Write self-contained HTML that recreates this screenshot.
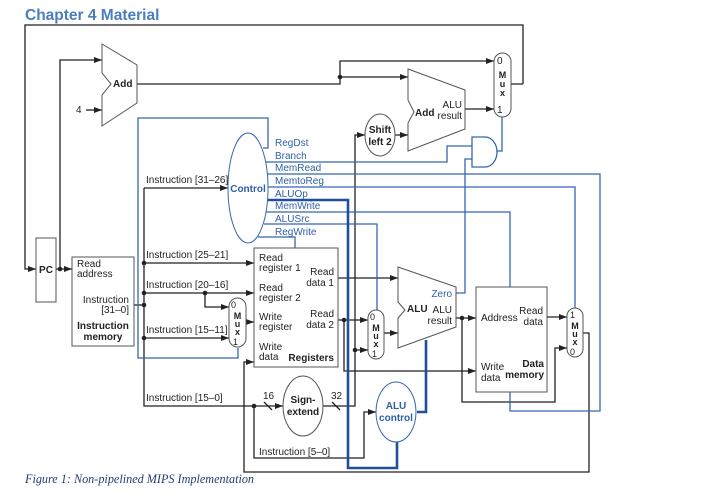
<!DOCTYPE html>
<html><head><meta charset="utf-8"><style>
html,body{margin:0;padding:0;background:#fff;width:712px;height:501px;overflow:hidden}
svg{display:block}
text{font-family:"Liberation Sans",Arial,sans-serif;font-size:10px;fill:#222}
.b{font-weight:bold}
.bl{fill:#2f5fa8}
.k{stroke:#222;stroke-width:1.3;fill:none}
.u{stroke:#3566b0;stroke-width:1.3;fill:none}
.U{stroke:#1f4f9a;stroke-width:2.6;fill:none}
.sh{stroke:#555;stroke-width:1;fill:#fff}
</style></head><body>
<svg width="712" height="501" viewBox="0 0 712 501" xmlns="http://www.w3.org/2000/svg">
<defs>
<marker id="a" viewBox="0 0 8 6" refX="8" refY="3" markerWidth="8" markerHeight="6" markerUnits="userSpaceOnUse" orient="auto"><path d="M0,0L8,3L0,6z" fill="#222"/></marker>
</defs>
<text x="25" y="20" style="font-size:15.5px;font-weight:bold;fill:#4a7ebb">Chapter 4 Material</text>

<g class="k">
<path d="M523,84H511M523,84V25H25V269H36" marker-end="url(#a)"/>
<path d="M56,269H72" marker-end="url(#a)"/>
<path d="M60,269V60H102" marker-end="url(#a)"/>
<path d="M86,110H102" marker-end="url(#a)"/>
<path d="M137,84H340V61H494" marker-end="url(#a)"/>
<path d="M340,77H408" marker-end="url(#a)"/>
<path d="M465,109H494" marker-end="url(#a)"/>
<path d="M395,135H408" marker-end="url(#a)"/>
<path d="M134,305H144"/>
<path d="M144,188H228" marker-end="url(#a)"/>
<path d="M144,188V406H283" marker-end="url(#a)"/>
<path d="M144,263H254" marker-end="url(#a)"/>
<path d="M144,293H254" marker-end="url(#a)"/>
<path d="M205,293V307H229" marker-end="url(#a)"/>
<path d="M144,338H229" marker-end="url(#a)"/>
<path d="M246,322H254" marker-end="url(#a)"/>
<path d="M254,406V458H364V412H376" marker-end="url(#a)"/>
<path d="M323,406H355V135H365" marker-end="url(#a)"/>
<path d="M355,350H368" marker-end="url(#a)"/>
<path d="M338,278H398" marker-end="url(#a)"/>
<path d="M338,320H368" marker-end="url(#a)"/>
<path d="M344,320V371H476" marker-end="url(#a)"/>
<path d="M384,333H398" marker-end="url(#a)"/>
<path d="M456,318H476" marker-end="url(#a)"/>
<path d="M462,318V402H555V348H567" marker-end="url(#a)"/>
<path d="M547,317H567" marker-end="url(#a)"/>
<path d="M583,333H589V472H244V362H254" marker-end="url(#a)"/>
<path d="M264,402L272,410M332,402L340,410"/>
</g>
<g fill="#222">
<circle cx="60" cy="269" r="2.3"/><circle cx="340" cy="77" r="2.3"/>
<circle cx="144" cy="263" r="2.3"/><circle cx="144" cy="293" r="2.3"/><circle cx="144" cy="305" r="2.3"/><circle cx="144" cy="338" r="2.3"/>
<circle cx="205" cy="293" r="2.3"/><circle cx="254" cy="406" r="2.3"/><circle cx="355" cy="350" r="2.3"/>
<circle cx="344" cy="320" r="2.3"/><circle cx="462" cy="318" r="2.3"/>
</g>

<g class="u">
<path d="M263,148H268V118H138V358H238V348"/>
<path d="M266,162H447V146H472"/>
<path d="M267,174H600V411H510V392"/>
<path d="M268,187H575V308"/>
<path d="M266,212H510V287"/>
<path d="M264,224H377V310"/>
<path d="M258,237H295V248"/>
<path d="M456,293H465V159H472"/>
<path d="M497,151H502V117"/>
</g>
<g class="U">
<path d="M267,200H348V468H397V441"/>
<path d="M426,340V412H417"/>
</g>

<rect x="36" y="238" width="20" height="64" class="sh"/>
<text x="46" y="273" class="b" text-anchor="middle">PC</text>
<path d="M102,44L137,65V103L102,126V95L111,84L102,73Z" class="sh"/>
<text x="113" y="87" class="b">Add</text>
<text x="76" y="113">4</text>
<path d="M408,69L465,90V129L408,151V123L414,112L408,100Z" class="sh"/>
<text x="415" y="116" class="b">Add</text>
<text x="462" y="108" text-anchor="end">ALU</text>
<text x="462" y="119" text-anchor="end">result</text>
<rect x="494" y="53" width="17" height="64" rx="8.5" class="sh"/>
<text x="497" y="64">0</text><text x="502.5" y="78" class="b" text-anchor="middle" style="font-size:9px">M</text><text x="502.5" y="87" class="b" text-anchor="middle" style="font-size:9px">u</text><text x="502.5" y="96" class="b" text-anchor="middle" style="font-size:9px">x</text><text x="497" y="113">1</text>
<ellipse cx="380" cy="135" rx="15" ry="21" class="sh"/>
<text x="380" y="133" class="b" text-anchor="middle">Shift</text><text x="380" y="145" class="b" text-anchor="middle">left 2</text>
<path d="M472,137H485A12,15 0 0 1 485,167H472Z" stroke="#3566b0" stroke-width="1.3" fill="#fff"/>
<ellipse cx="248" cy="188" rx="20" ry="55" stroke="#3566b0" stroke-width="1" fill="#fff"/>
<text x="248" y="192" class="b bl" text-anchor="middle">Control</text>
<g class="bl"><text x="275" y="146" class="bl">RegDst</text><text x="275" y="159" class="bl">Branch</text><text x="275" y="171" class="bl">MemRead</text><text x="275" y="184" class="bl">MemtoReg</text><text x="275" y="197" class="bl">ALUOp</text><text x="275" y="209" class="bl">MemWrite</text><text x="275" y="222" class="bl">ALUSrc</text><text x="275" y="235" class="bl">RegWrite</text></g>
<text x="146" y="183">Instruction [31–26]</text>
<rect x="72" y="257" width="62" height="89" class="sh"/>
<text x="77" y="267">Read</text><text x="77" y="277">address</text>
<text x="129" y="303" text-anchor="end">Instruction</text><text x="129" y="313" text-anchor="end">[31–0]</text>
<text x="103" y="329" class="b" text-anchor="middle">Instruction</text><text x="103" y="340" class="b" text-anchor="middle">memory</text>
<text x="146" y="258">Instruction [25–21]</text>
<text x="146" y="288">Instruction [20–16]</text>
<text x="146" y="333">Instruction [15–11]</text>
<text x="146" y="401">Instruction [15–0]</text>
<rect x="229" y="298" width="17" height="49" rx="8.5" class="sh"/>
<text x="231" y="308" style="font-size:9px">0</text><text x="237.5" y="319" class="b" text-anchor="middle" style="font-size:9px">M</text><text x="237.5" y="327" class="b" text-anchor="middle" style="font-size:9px">u</text><text x="237.5" y="335" class="b" text-anchor="middle" style="font-size:9px">x</text><text x="233" y="345" style="font-size:9px">1</text>
<rect x="254" y="248" width="84" height="119" class="sh"/>
<text x="259" y="261">Read</text><text x="259" y="271">register 1</text>
<text x="259" y="291">Read</text><text x="259" y="301">register 2</text>
<text x="259" y="320">Write</text><text x="259" y="330">register</text>
<text x="259" y="350">Write</text><text x="259" y="360">data</text>
<text x="334" y="275" text-anchor="end">Read</text><text x="334" y="286" text-anchor="end">data 1</text>
<text x="334" y="317" text-anchor="end">Read</text><text x="334" y="328" text-anchor="end">data 2</text>
<text x="334" y="361" class="b" text-anchor="end">Registers</text>
<ellipse cx="303" cy="406" rx="20" ry="30" class="sh"/>
<text x="303" y="403" class="b" text-anchor="middle">Sign-</text><text x="303" y="415" class="b" text-anchor="middle">extend</text>
<text x="263" y="399">16</text><text x="331" y="399">32</text>
<text x="259" y="455">Instruction [5–0]</text>
<rect x="368" y="310" width="16" height="49" rx="8" class="sh"/>
<text x="370" y="320" style="font-size:9px">0</text><text x="376" y="331" class="b" text-anchor="middle" style="font-size:9px">M</text><text x="376" y="339" class="b" text-anchor="middle" style="font-size:9px">u</text><text x="376" y="347" class="b" text-anchor="middle" style="font-size:9px">x</text><text x="372" y="357" style="font-size:9px">1</text>
<path d="M398,267L456,287V327L398,348V318L405,310L398,302Z" class="sh"/>
<text x="407" y="312" class="b">ALU</text>
<text x="452" y="297" class="bl" text-anchor="end">Zero</text>
<text x="452" y="313" text-anchor="end">ALU</text><text x="452" y="324" text-anchor="end">result</text>
<ellipse cx="396" cy="412" rx="20" ry="30" stroke="#3566b0" stroke-width="1" fill="#fff"/>
<text x="396" y="409" class="b bl" text-anchor="middle">ALU</text><text x="396" y="421" class="b bl" text-anchor="middle">control</text>
<rect x="476" y="287" width="71" height="105" class="sh"/>
<text x="481" y="321">Address</text>
<text x="543" y="314" text-anchor="end">Read</text><text x="543" y="325" text-anchor="end">data</text>
<text x="481" y="370">Write</text><text x="481" y="381">data</text>
<text x="544" y="367" class="b" text-anchor="end">Data</text><text x="544" y="378" class="b" text-anchor="end">memory</text>
<rect x="567" y="308" width="16" height="49" rx="8" class="sh"/>
<text x="570" y="318" style="font-size:9px">1</text><text x="575" y="329" class="b" text-anchor="middle" style="font-size:9px">M</text><text x="575" y="337" class="b" text-anchor="middle" style="font-size:9px">u</text><text x="575" y="345" class="b" text-anchor="middle" style="font-size:9px">x</text><text x="570" y="355" style="font-size:9px">0</text>

<text x="25" y="483" style="font-family:'Liberation Serif',serif;font-style:italic;font-size:12.2px;fill:#1f3f7a">Figure 1: Non-pipelined MIPS Implementation</text>
</svg>
</body></html>
